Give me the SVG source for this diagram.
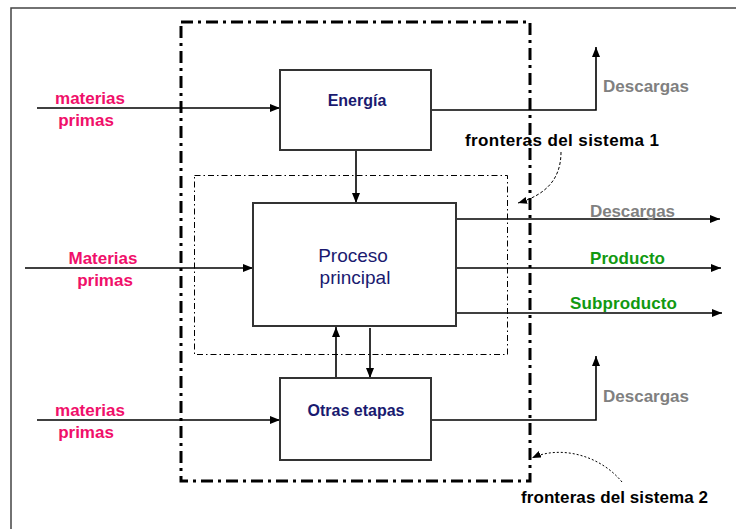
<svg xmlns="http://www.w3.org/2000/svg" width="736" height="529" viewBox="0 0 736 529">
<defs>
<marker id="ah" markerWidth="10" markerHeight="8" refX="10" refY="4" orient="auto" markerUnits="userSpaceOnUse">
<path d="M0,0 L10,4 L0,8 Z" fill="#000"/>
</marker>
<marker id="ah2" markerWidth="9" markerHeight="7" refX="9" refY="3.5" orient="auto" markerUnits="userSpaceOnUse">
<path d="M0,0 L9,3.5 L0,7 Z" fill="#000"/>
</marker>
<style>
.box{fill:#fff;stroke:#333;stroke-width:2}
.ln{fill:none;stroke:#000;stroke-width:1.6}
.pink{fill:#f0106a;font-family:"Liberation Sans",sans-serif;font-weight:bold;font-size:17px}
.navy{fill:#1a1a70;font-family:"Liberation Sans",sans-serif;font-size:16px;font-weight:bold}
.navy2{fill:#1a1a70;font-family:"Liberation Sans",sans-serif;font-size:19px}
.gray{fill:#808080;font-family:"Liberation Sans",sans-serif;font-size:17px;font-weight:bold}
.green{fill:#119911;font-family:"Liberation Sans",sans-serif;font-size:17px;font-weight:bold}
.blk{fill:#000;font-family:"Liberation Sans",sans-serif;font-size:17px;font-weight:bold}
</style>
</defs>
<rect width="736" height="529" fill="#fff"/>
<path d="M11,529 V8 H736" fill="none" stroke="#444" stroke-width="1.5"/>
<g id="boundary1">
<rect x="181" y="22" width="349" height="459" fill="none" stroke="#000" stroke-width="3" stroke-dasharray="12 5 3 5"/>
</g>
<g id="boundary2">
<rect x="194.5" y="175.5" width="313" height="179" fill="none" stroke="#000" stroke-width="1" stroke-dasharray="6 3 1.5 3"/>
</g>
<g id="connectors">
<line class="ln" x1="37" y1="108" x2="280" y2="108" marker-end="url(#ah)"/>
<line class="ln" x1="25" y1="268" x2="253" y2="268" marker-end="url(#ah)"/>
<line class="ln" x1="37" y1="420" x2="280" y2="420" marker-end="url(#ah)"/>
<line class="ln" x1="356" y1="150" x2="356" y2="203" marker-end="url(#ah)"/>
<line class="ln" x1="336" y1="378" x2="336" y2="327" marker-end="url(#ah)"/>
<line class="ln" x1="370" y1="328" x2="370" y2="378" marker-end="url(#ah)"/>
<polyline class="ln" points="431,110 596,110 596,47" marker-end="url(#ah)"/>
<polyline class="ln" points="431,420 596,420 596,356" marker-end="url(#ah)"/>
<line class="ln" x1="456" y1="219" x2="720" y2="219" marker-end="url(#ah)"/>
<line class="ln" x1="456" y1="268" x2="721" y2="268" marker-end="url(#ah)"/>
<line class="ln" x1="456" y1="313" x2="722" y2="313" marker-end="url(#ah)"/>
<path d="M561,152 C561,180 545,195 518,203" fill="none" stroke="#000" stroke-width="1" stroke-dasharray="3 2" marker-end="url(#ah2)"/>
<path d="M622,482 C600,455 560,445 532,458" fill="none" stroke="#000" stroke-width="1" stroke-dasharray="2 2" marker-end="url(#ah2)"/>
</g>
<g id="energia">
<rect class="box" x="280" y="70" width="151" height="80"/>
<text class="navy" x="357" y="106" text-anchor="middle">Energía</text>
</g>
<g id="proceso">
<rect class="box" x="253" y="203" width="203" height="123"/>
<text class="navy2" x="353" y="262" text-anchor="middle">Proceso</text>
<text class="navy2" x="355" y="284" text-anchor="middle">principal</text>
</g>
<g id="otras">
<rect class="box" x="280" y="378" width="151" height="82"/>
<text class="navy" x="356" y="416" text-anchor="middle">Otras etapas</text>
</g>
<g id="labels">
<text class="pink" x="90" y="104" text-anchor="middle">materias</text>
<text class="pink" x="86" y="126" text-anchor="middle">primas</text>
<text class="pink" x="103" y="264" text-anchor="middle">Materias</text>
<text class="pink" x="105" y="286" text-anchor="middle">primas</text>
<text class="pink" x="90" y="416" text-anchor="middle">materias</text>
<text class="pink" x="86" y="438" text-anchor="middle">primas</text>
<text class="gray" x="603" y="92" textLength="86">Descargas</text>
<text class="gray" x="590" y="217" textLength="85">Descargas</text>
<text class="green" x="590" y="264" textLength="75">Producto</text>
<text class="green" x="570" y="309" textLength="107">Subproducto</text>
<text class="gray" x="603" y="402" textLength="86">Descargas</text>
<text class="blk" x="465" y="146" textLength="194">fronteras del sistema 1</text>
<text class="blk" x="521" y="503" textLength="187">fronteras del sistema 2</text>
</g>
</svg>
